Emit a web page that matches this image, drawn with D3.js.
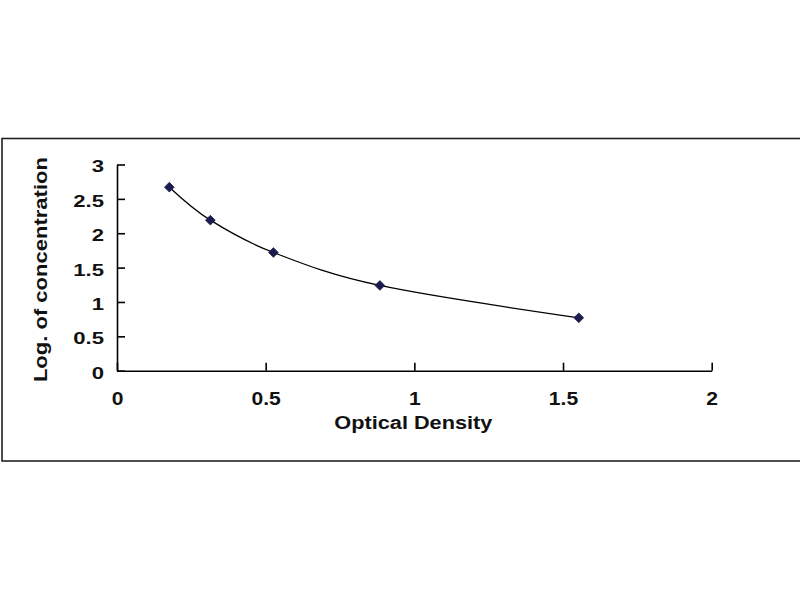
<!DOCTYPE html>
<html>
<head>
<meta charset="utf-8">
<script src="https://cdn.jsdelivr.net/npm/d3@7"></script>
<style>
  body { margin: 0; background: #fff; }
  text { font-family: Arial, "Liberation Sans", sans-serif; font-weight: bold; fill: #111; }
</style>
</head>
<body>
<svg id="chart" width="800" height="600"></svg>
<script>
// standard curve readings
var opticalDensity = [0.176, 0.314, 0.526, 0.884, 1.553];
var logConcentration = [2.67, 2.19, 1.72, 1.24, 0.77];
var xTicks = [0, 0.5, 1, 1.5, 2];
var yTicks = [0, 0.5, 1, 1.5, 2, 2.5, 3];

var svg = d3.select("#chart");

var WIDTH = 800, HEIGHT = 600;
var PLOT_LEFT = 117, PLOT_RIGHT = 711.7, PLOT_TOP = 164.5, PLOT_BOTTOM = 370.7;

svg.append("rect").attr("width", WIDTH).attr("height", HEIGHT).style("fill", "#fff");

// outer chart frame
svg.append("rect")
	.attr("x", 2).attr("y", 138.5)
	.attr("width", 820).attr("height", 322.5)
	.style("fill", "none")
	.style("stroke", "#222")
	.style("stroke-width", "1.6px");

var x = d3.scaleLinear().domain([0, 2]).range([PLOT_LEFT, PLOT_RIGHT]);
var y = d3.scaleLinear().domain([0, 3]).range([PLOT_BOTTOM, PLOT_TOP]);

var gx = svg.append("g")
	.attr("transform", `translate(0,${ PLOT_BOTTOM })`)
	.call(d3.axisBottom(x).tickValues(xTicks).tickFormat(d3.format("")).tickSizeInner(-8).tickSizeOuter(0).tickPadding(21));

gx.selectAll("text")
	.style("font-size", "18.5px")
	.attr("transform", "scale(1.14,1)");

var gy = svg.append("g")
	.attr("transform", `translate(${ PLOT_LEFT },0)`)
	.call(d3.axisLeft(y).tickValues(yTicks).tickFormat(d3.format("")).tickSizeInner(-8).tickSizeOuter(0));

gy.selectAll("text")
	.style("font-size", "17px")
	.attr("x", -10)
	.attr("dy", "0.44em")
	.attr("transform", "scale(1.3,1)");

svg.selectAll(".domain, .tick line")
	.style("stroke", "#000")
	.style("stroke-width", "1.6px");

// axis titles
svg.append("text")
	.text("Optical Density")
	.attr("x", (PLOT_LEFT + PLOT_RIGHT) / 2 - 1).attr("y", 428.5)
	.attr("text-anchor", "middle")
	.attr("textLength", 158).attr("lengthAdjust", "spacingAndGlyphs")
	.style("font-size", "18px");

svg.append("text")
	.text("Log. of concentration")
	.attr("transform", `translate(46.5,${ (PLOT_TOP + PLOT_BOTTOM) / 2 + 2 }) rotate(-90)`)
	.attr("text-anchor", "middle")
	.attr("textLength", 225).attr("lengthAdjust", "spacingAndGlyphs")
	.style("font-size", "18px");

var points = opticalDensity.map((d, i) => ({ od: d, lc: logConcentration[i] }));

var line = d3.line()
	.x(d => x(d.od))
	.y(d => y(d.lc))
	.curve(d3.curveCardinal.tension(0));

svg.append("path")
	.datum(points)
	.attr("d", line)
	.style("fill", "none")
	.style("stroke", "#000")
	.style("stroke-width", "1.3px");

svg.selectAll(".marker")
	.data(points)
	.enter()
	.append("path")
	.attr("class", "marker")
	.attr("d", d3.symbol().type(d3.symbolDiamond2).size(60))
	.attr("transform", d => `translate(${ x(d.od) },${ y(d.lc) })`)
	.style("fill", "#1b1b4d")
	.style("stroke", "#1b1b4d")
	.style("stroke-width", "0.8px");
</script>
</body>
</html>
